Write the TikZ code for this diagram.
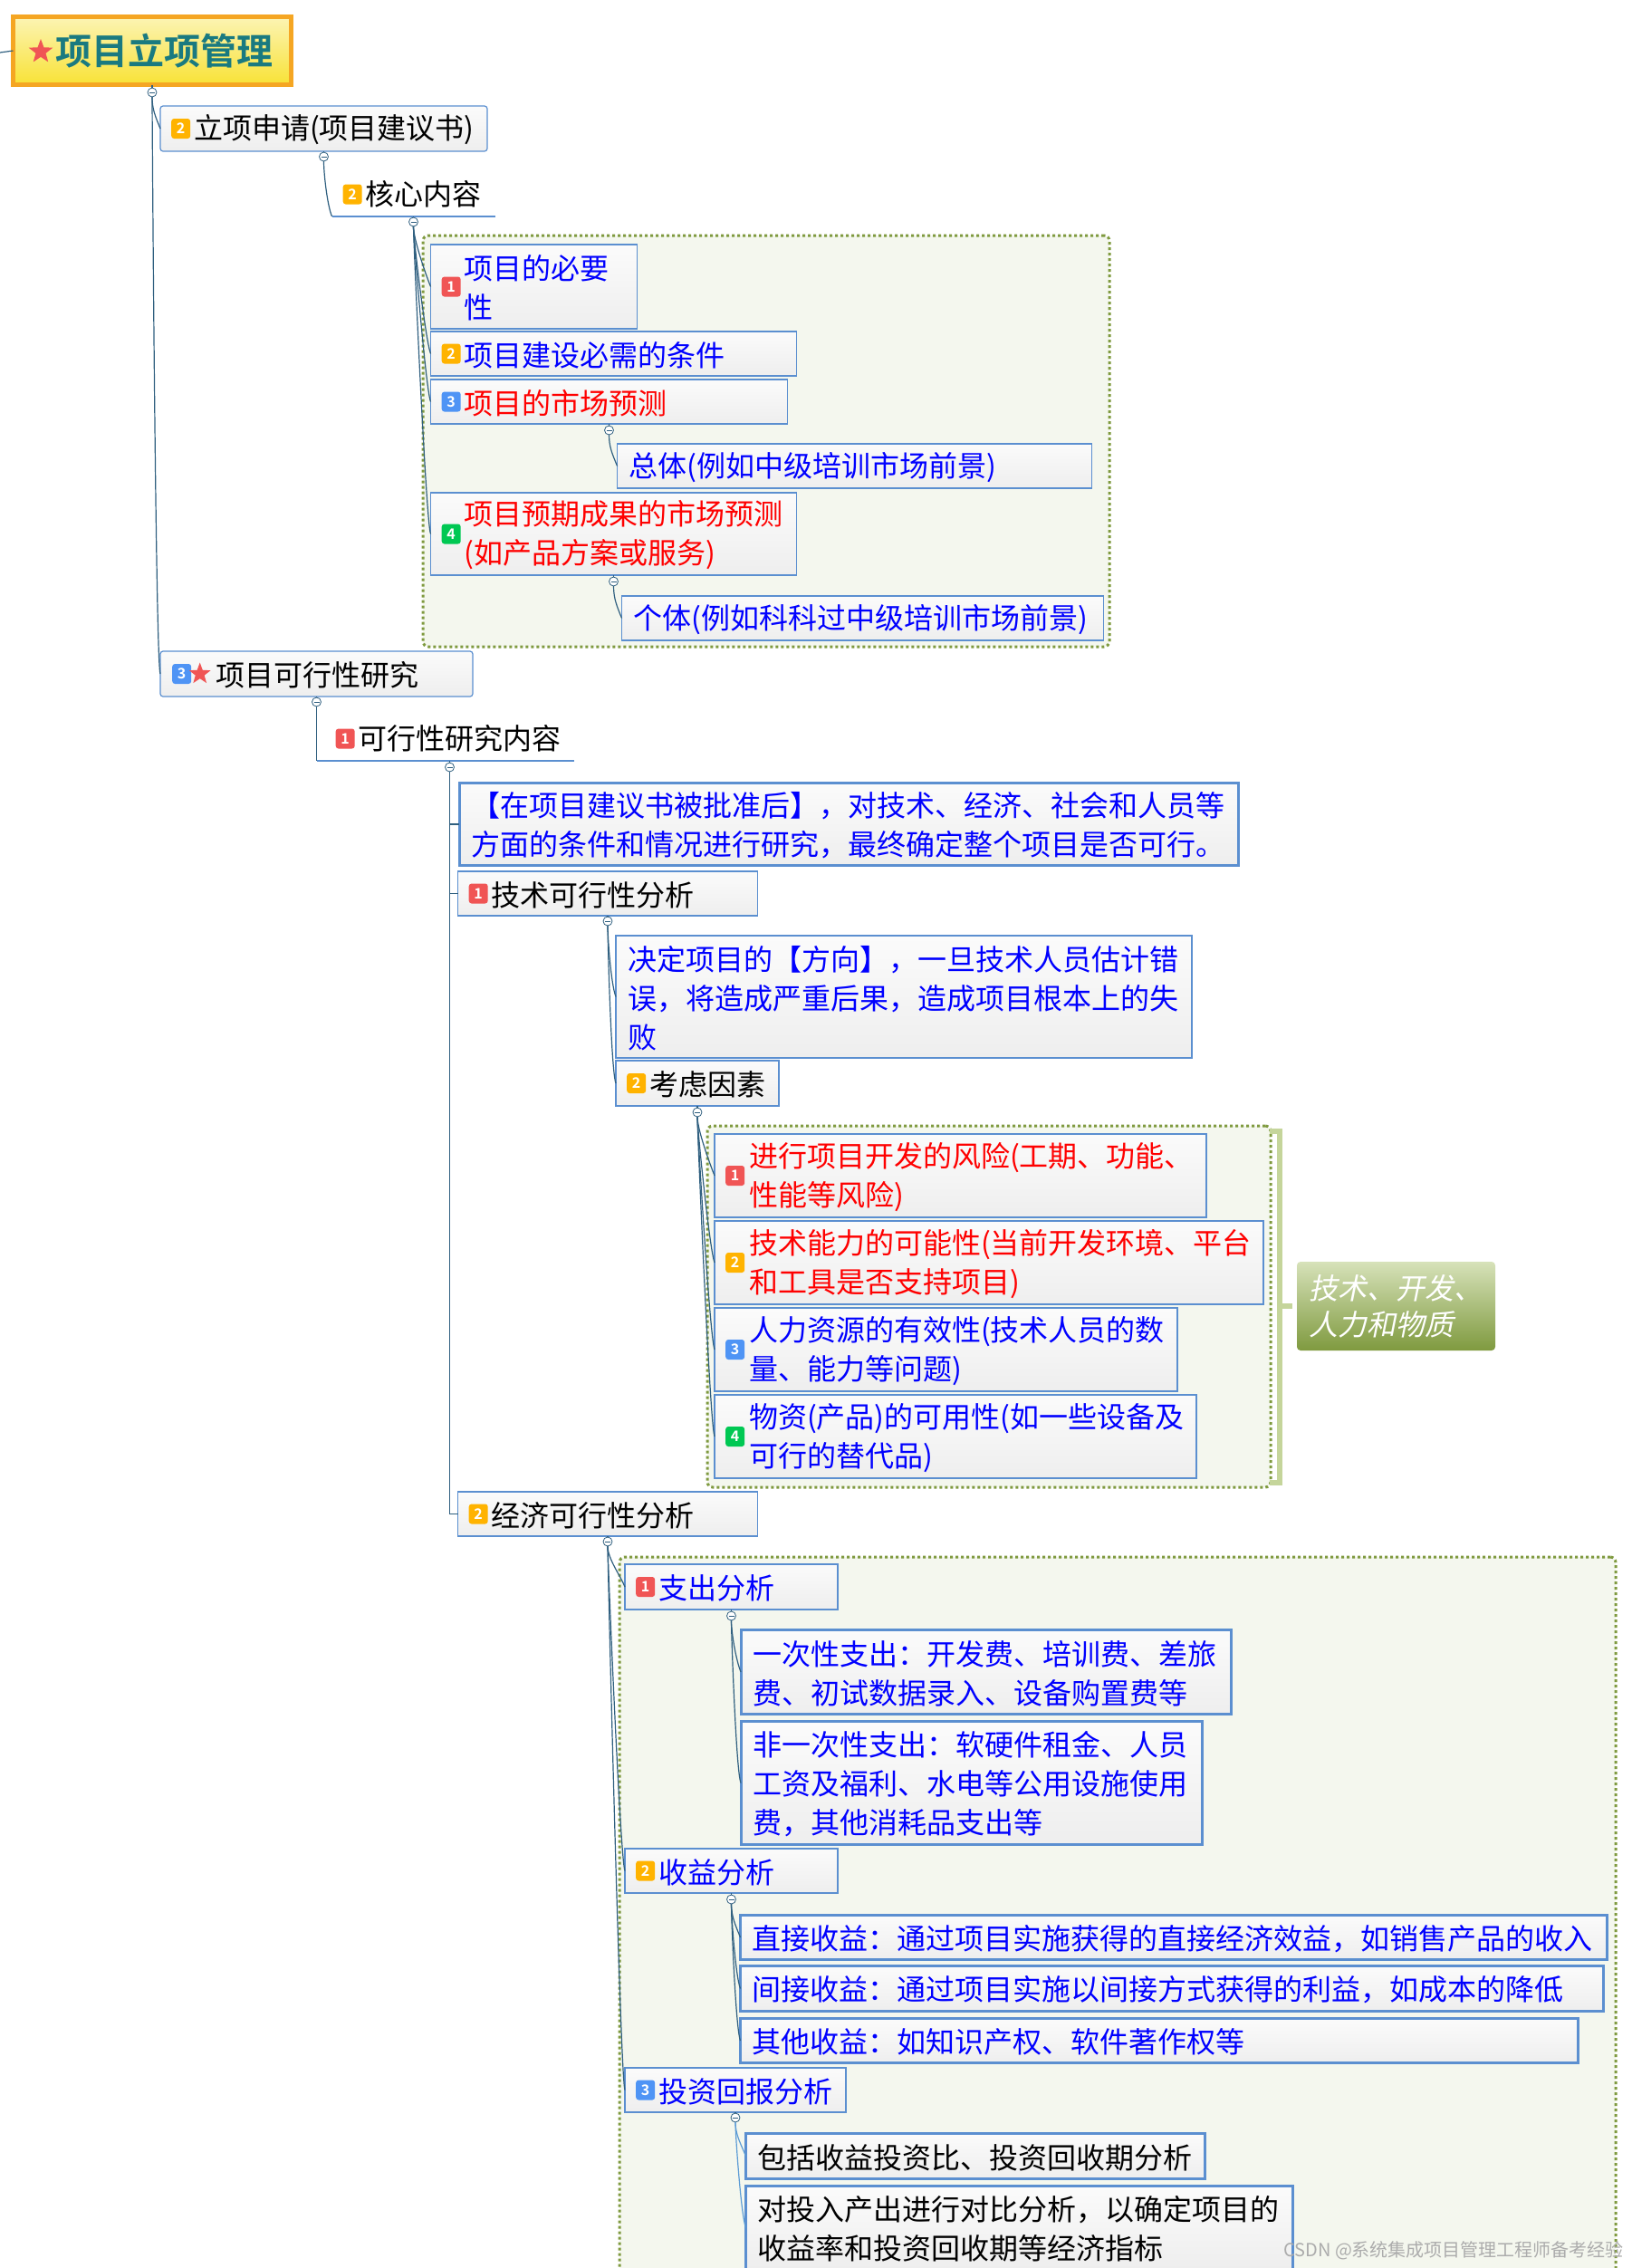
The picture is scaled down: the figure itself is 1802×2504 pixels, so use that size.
\documentclass[tikz,border=0pt]{standalone}
\usepackage{fontspec}
\setmainfont{Noto Sans CJK SC}[BoldFont={Noto Sans CJK SC Bold}]
\newfontfamily\notefont{Noto Sans CJK SC}[FakeSlant=0.2]
\usetikzlibrary{shapes.geometric, positioning}

\definecolor{boxline}{HTML}{5B8FD0}
\definecolor{boxtop}{HTML}{FBFBFB}
\definecolor{boxbot}{HTML}{EEEEEE}
\definecolor{linkcol}{HTML}{2F5F7F}
\definecolor{lightlink}{HTML}{5B9BD5}
\definecolor{zoneback}{HTML}{F4F7EE}
\definecolor{zoneline}{HTML}{7F9A3F}
\definecolor{bracecol}{HTML}{C5D59B}
\definecolor{tagred}{HTML}{F05555}
\definecolor{tagorange}{HTML}{FFB300}
\definecolor{tagblue}{HTML}{4F94F5}
\definecolor{taggreen}{HTML}{00C853}
\definecolor{rootteal}{HTML}{1A7A80}
\definecolor{rootline}{HTML}{F5A623}
\definecolor{roottop}{HTML}{FCF4B4}
\definecolor{rootbot}{HTML}{F8E236}
\definecolor{pureblue}{HTML}{0000FF}
\definecolor{purered}{HTML}{FF0000}

\newcommand{\gapb}{\hspace*{37pt}}
\newcommand{\gapt}{\hspace*{13pt}}

\begin{document}
\begin{tikzpicture}[
    x=1pt, y=-1pt,
    node distance=4pt and 0pt,
    box/.style={rectangle, draw=boxline, line width=1.2pt, top color=boxtop, bottom color=boxbot,
                inner sep=0pt, outer sep=0pt, minimum height=49pt, text width=#1, align=left,
                execute at begin node={\rule{0pt}{30pt}},
                font=\fontsize{32}{43}\selectfont},
    frame/.style={box=#1, line width=3pt},
    bare/.style={rectangle, inner sep=0pt, outer sep=0pt, minimum height=49pt, text width=#1, align=left,
                 font=\fontsize{32}{43}\selectfont},
    blu/.style={text=pureblue},
    rd/.style={text=purered},
    bad/.style={rectangle, rounded corners=3pt, minimum width=21pt, minimum height=22pt, inner sep=0pt,
                text=white, font=\fontsize{16}{16}\bfseries\selectfont},
    t1/.style={bad, fill=tagred},
    t2/.style={bad, fill=tagorange},
    t3/.style={bad, fill=tagblue},
    t4/.style={bad, fill=taggreen},
    fold/.style={circle, draw=linkcol, fill=white, line width=0.8pt, minimum size=10pt, inner sep=0pt, outer sep=0pt,
                 path picture={\draw[linkcol, line width=0.7pt] ([xshift=2pt]path picture bounding box.west) -- ([xshift=-2pt]path picture bounding box.east);}},
    link/.style={draw=linkcol, line width=1.2pt},
    feed/.style={out=270, in=112, max distance=14pt},
    zone/.style={rectangle, draw=zoneline, fill=zoneback, line width=3pt, dash pattern=on 3pt off 3pt,
                 rounded corners=6pt, inner sep=0pt, outer sep=0pt, anchor=north west},
    star5/.style={star, star points=5, star point ratio=2.4, fill=tagred, inner sep=0pt},
]
    \clip (0,0) rectangle (1802,2504);

    \node[zone, minimum width=758pt, minimum height=454pt] (zone1) at (467,260) {};
    \node[zone, minimum width=622pt, minimum height=399pt] (zone2) at (781,1243) {};
    \node[zone, minimum width=1100pt, minimum height=800pt] (zone3) at (684,1719) {};

    \node[rectangle, draw=rootline, line width=5pt, top color=roottop, bottom color=rootbot, inner sep=0pt, outer sep=0pt,
          minimum height=75pt, text width=307pt, align=left, text=rootteal, font=\fontsize{40}{48}\bfseries\selectfont,
          anchor=north west] (root) at (14.5,18.5) {\hspace*{47pt}项目立项管理};
    \node[star5, minimum size=28pt] (rootstar) at (45,57) {};
    \coordinate (stub) at (0,58);

    \node[fold, below=3.5pt of root] (f0) {};
    \node[box=361pt, minimum height=50pt, rounded corners=3pt, below right=15pt and 9pt of f0.center] (a1) {\gapb 立项申请(项目建议书)};
    \node[t2, right=12pt of a1.west] (ta1) {2};
    \node[fold, below=1pt of a1] (f1) {};
    \node[bare=180pt, below right=17pt and 9pt of f1.center] (a2) {\gapb 核心内容};
    \node[t2, right=12pt of a2.west] (ta2) {2};
    \node[fold, below=1pt of a2] (f2) {};

    \node[box=228pt, blu, minimum height=93pt, below right=25pt and 19pt of f2.center] (b1) {\gapb 项目的必要\\\gapb 性};
    \node[t1, right=12pt of b1.west] (tb1) {1};
    \node[box=404pt, blu, below right=3pt and 0pt of b1.south west] (b2) {\gapb 项目建设必需的条件};
    \node[t2, right=12pt of b2.west] (tb2) {2};
    \node[box=394pt, rd, below right=4pt and 0pt of b2.south west] (b3) {\gapb 项目的市场预测};
    \node[t3, right=12pt of b3.west] (tb3) {3};
    \node[fold, below=2pt of b3] (f3) {};
    \node[box=524pt, blu, below right=15pt and 9pt of f3.center] (b3a) {\gapt 总体(例如中级培训市场前景)};
    \node[box=404pt, rd, minimum height=91pt, below right=76pt and 0pt of b3.south west] (b4) {\gapb 项目预期成果的市场预测\\\gapb (如产品方案或服务)};
    \node[t4, right=12pt of b4.west] (tb4) {4};
    \node[fold, below=2pt of b4] (f4) {};
    \node[box=532pt, blu, below right=16pt and 9pt of f4.center] (b4a) {\gapt 个体(例如科科过中级培训市场前景)};

    \node[box=345pt, minimum height=50pt, rounded corners=3pt, below right=552pt and 0pt of a1.south west] (a3) {\hspace*{61pt}项目可行性研究};
    \node[t3, right=13pt of a3.west] (ta3) {3};
    \node[star5, minimum size=25pt, right=2pt of ta3] (a3star) {};
    \node[fold, below=1pt of a3] (f5) {};
    \node[bare=284pt, below right=16pt and 0pt of f5.center] (a4) {\hspace*{46pt}可行性研究内容};
    \node[t1, right=21pt of a4.west] (ta4) {1};
    \coordinate (a4foot) at ([xshift=147pt]a4.south west);
    \node[fold, below=2pt of a4foot] (f6) {};

    \node[frame=860pt, blu, minimum height=91pt, below right=17.5pt and 10.5pt of f6.center] (c1) {\gapt 【在项目建议书被批准后】，对技术、经济、社会和人员等\\\gapt 方面的条件和情况进行研究，最终确定整个项目是否可行。};
    \node[box=331pt, below right=115pt and 9pt of f6.center] (c2) {\gapb 技术可行性分析};
    \node[t1, right=12pt of c2.west] (tc2) {1};
    \node[fold, below=1pt of c2] (f7) {};
    \node[box=636pt, blu, minimum height=135pt, below right=16pt and 9pt of f7.center] (d1) {\gapt 决定项目的【方向】，一旦技术人员估计错\\\gapt 误，将造成严重后果，造成项目根本上的失\\\gapt 败};
    \node[box=180pt, minimum height=50pt, below right=3pt and 0pt of d1.south west] (d2) {\gapb 考虑因素};
    \node[t2, right=12pt of d2.west] (td2) {2};
    \node[fold, below=2pt of d2] (f8) {};

    \node[box=543pt, rd, minimum height=92pt, below right=24pt and 19pt of f8.center] (e1) {\hspace*{38pt}进行项目开发的风险(工期、功能、\\\hspace*{38pt}性能等风险)};
    \node[t1, right=12pt of e1.west] (te1) {1};
    \node[box=606pt, rd, minimum height=92pt, below right=4pt and 0pt of e1.south west] (e2) {\hspace*{38pt}技术能力的可能性(当前开发环境、平台\\\hspace*{38pt}和工具是否支持项目)};
    \node[t2, right=12pt of e2.west] (te2) {2};
    \node[box=511pt, blu, minimum height=92pt, below right=4pt and 0pt of e2.south west] (e3) {\hspace*{38pt}人力资源的有效性(技术人员的数\\\hspace*{38pt}量、能力等问题)};
    \node[t3, right=12pt of e3.west] (te3) {3};
    \node[box=532pt, blu, minimum height=92pt, below right=4pt and 0pt of e3.south west] (e4) {\hspace*{38pt}物资(产品)的可用性(如一些设备及\\\hspace*{38pt}可行的替代品)};
    \node[t4, right=12pt of e4.west] (te4) {4};

    \node[rectangle, rounded corners=4pt, top color=bracecol!70!white, bottom color=zoneline, text=white, inner sep=0pt, outer sep=0pt,
          minimum height=98pt, text width=219pt, align=left, font=\fontsize{32}{40}\notefont\selectfont,
          anchor=north west] (note) at (1432,1393) {\gapt 技术、开发、\\\gapt 人力和物质};
    \coordinate (bratop) at (1402,1249);
    \coordinate (brabot) at (1402,1637);
    \coordinate (bramid) at (1413,1442);
    \coordinate (notetip) at (1427,1442);
    \draw[bracecol, line width=5.5pt] (bratop) -| (bramid) |- (brabot);
    \draw[bracecol, line width=5.5pt] (bramid) -- (notetip);

    \node[box=331pt, below right=636pt and 0pt of c2.south west] (c3) {\gapb 经济可行性分析};
    \node[t2, right=12pt of c3.west] (tc3) {2};
    \node[fold, below=1pt of c3] (f9) {};

    \node[box=235pt, blu, minimum height=50pt, below right=25pt and 19pt of f9.center] (g1) {\gapb 支出分析};
    \node[t1, right=12pt of g1.west] (tg1) {1};
    \node[fold, below=2pt of g1] (f10) {};
    \node[frame=541pt, blu, minimum height=93pt, below right=15.5pt and 10.5pt of f10.center] (h1) {\gapt 一次性支出：开发费、培训费、差旅\\\gapt 费、初试数据录入、设备购置费等};
    \node[frame=509pt, blu, minimum height=136pt, below right=8pt and 0pt of h1.south west] (h2) {\gapt 非一次性支出：软硬件租金、人员\\\gapt 工资及福利、水电等公用设施使用\\\gapt 费，其他消耗品支出等};

    \node[box=235pt, blu, below right=264pt and 0pt of g1.south west] (g2) {\gapb 收益分析};
    \node[t2, right=12pt of g2.west] (tg2) {2};
    \node[fold, below=2pt of g2] (f11) {};
    \node[frame=957pt, blu, below right=17.5pt and 10pt of f11.center] (h3) {\gapt 直接收益：通过项目实施获得的直接经济效益，如销售产品的收入};
    \node[frame=953pt, blu, minimum height=50pt, below right=7pt and 0pt of h3.south west] (h4) {\gapt 间接收益：通过项目实施以间接方式获得的利益，如成本的降低};
    \node[frame=925pt, blu, below right=8pt and 0pt of h4.south west] (h5) {\gapt 其他收益：如知识产权、软件著作权等};

    \node[box=244pt, blu, below right=193pt and 0pt of g2.south west] (g3) {\gapb 投资回报分析};
    \node[t3, right=12pt of g3.west] (tg3) {3};
    \node[fold, below=1pt of g3] (f12) {};
    \node[frame=507pt, minimum height=50pt, below right=17.5pt and 11.5pt of f12.center] (k1) {\gapt 包括收益投资比、投资回收期分析};
    \node[frame=604pt, minimum height=92pt, below right=8pt and 0pt of k1.south west] (k2) {\gapt 对投入产出进行对比分析，以确定项目的\\\gapt 收益率和投资回收期等经济指标};

    \node[anchor=west, inner sep=0pt, text=gray!65, font=\fontsize{20}{20}\selectfont] (mark) at (1417,2485) {CSDN @系统集成项目管理工程师备考经验};

    \draw[link] (stub) -- (root.west);
    \draw[link] (root) -- (f0);
    \draw[link] (f0) to[feed] (a1.west);
    \draw[link] (f0) to[feed] (a3.west);
    \draw[link] (a1) -- (f1);
    \draw[link] (f1) to[feed] (a2.south west);
    \draw[boxline, line width=1.2pt] (a2.south west) -- (a2.south east);
    \draw[link] (a2) -- (f2);
    \draw[link] (f2) to[feed] (b1.west);
    \draw[link] (f2) to[feed] (b2.west);
    \draw[link] (f2) to[feed] (b3.west);
    \draw[link] (f2) to[feed] (b4.west);
    \draw[link] (b3) -- (f3);
    \draw[link] (f3) to[feed] (b3a.west);
    \draw[link] (b4) -- (f4);
    \draw[link] (f4) to[feed] (b4a.west);
    \draw[link] (a3) -- (f5);
    \draw[link] (f5) -- (a4.south west);
    \draw[boxline, line width=1.2pt] (a4.south west) -- (a4.south east);
    \draw[link] (a4foot) -- (f6);
    \draw[link] (f6) |- (c1.west);
    \draw[link] (f6) |- (c2.west);
    \draw[link] (f6) |- (c3.west);
    \draw[link] (c2) -- (f7);
    \draw[link] (f7) to[feed] (d1.west);
    \draw[link] (f7) to[feed] (d2.west);
    \draw[link] (d2) -- (f8);
    \draw[link] (f8) to[feed] (e1.west);
    \draw[link] (f8) to[feed] (e2.west);
    \draw[link] (f8) to[feed] (e3.west);
    \draw[link] (f8) to[feed] (e4.west);
    \draw[link] (c3) -- (f9);
    \draw[link] (f9) to[feed] (g1.west);
    \draw[link] (f9) to[feed] (g2.west);
    \draw[link] (f9) to[feed] (g3.west);
    \draw[link] (g1) -- (f10);
    \draw[link] (f10) to[feed] (h1.west);
    \draw[link] (f10) to[feed] (h2.west);
    \draw[link] (g2) -- (f11);
    \draw[link] (f11) to[feed] (h3.west);
    \draw[link] (f11) to[feed] (h4.west);
    \draw[link] (f11) to[feed] (h5.west);
    \draw[link] (g3) -- (f12);
    \draw[lightlink, line width=1.2pt] (f12) to[feed] (k1.west);
    \draw[lightlink, line width=1.2pt] (f12) to[feed] (k2.west);
\end{tikzpicture}
\end{document}
